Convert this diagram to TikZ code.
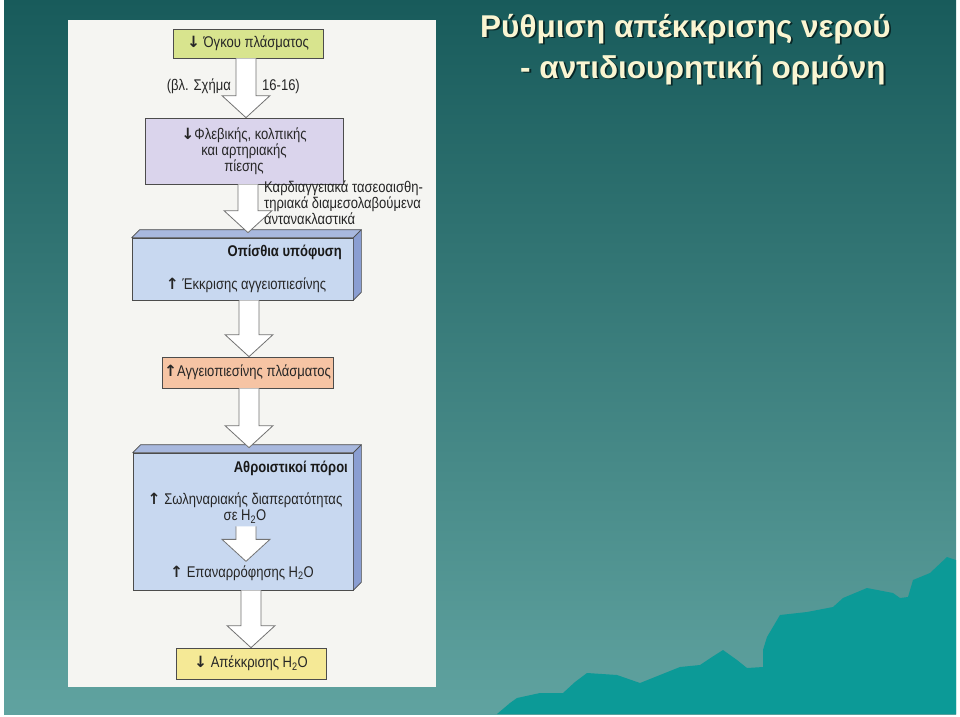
\documentclass[tikz,border=0pt]{standalone}
\usepackage{fontspec}
\setmainfont{Liberation Sans}
\newfontfamily\pf[FakeStretch=0.84]{Liberation Sans}
\newfontfamily\arr{DejaVu Sans}
\usetikzlibrary{calc}
\definecolor{bgtop}{HTML}{185B5B}
\definecolor{bgbot}{HTML}{60A3A0}
\definecolor{mount}{HTML}{0C9A97}
\definecolor{paper}{HTML}{F5F5F2}
\definecolor{cgreen}{HTML}{D8E48E}
\definecolor{clav}{HTML}{DAD4EC}
\definecolor{cblue}{HTML}{C8D8F0}
\definecolor{ctop}{HTML}{A8B8DE}
\definecolor{cside}{HTML}{8A9ED2}
\definecolor{csalmon}{HTML}{F6C4A4}
\definecolor{cyellow}{HTML}{F5E996}
\definecolor{ctitle}{HTML}{FAF5D2}
\definecolor{cshadow}{HTML}{082626}
\newcommand\dn{{\arr\bfseries ↓}}
\newcommand\up{{\arr\bfseries ↑}}
\newcommand\blockarr[3]{\draw[barr] let \p1=(#1), \p2=(#2) in
  (#3pt-10pt,\y1) -- (#3pt-10pt,\y2+22pt) -- (#3pt-24pt,\y2+22pt) -- (#3pt,\y2)
  -- (#3pt+24pt,\y2+22pt) -- (#3pt+10pt,\y2+22pt) -- (#3pt+10pt,\y1);}
\begin{document}
\begin{tikzpicture}[x=1pt,y=-1pt,
  box/.style={draw=black!70, line width=0.7pt, inner sep=0pt, align=center,
    font=\pf\fontsize{15.5}{16}\selectfont, text=black!85},
  txt/.style={inner sep=0pt, align=center, font=\pf\fontsize{15.5}{16}\selectfont, text=black!85},
  hdr/.style={inner sep=0pt, anchor=east, font=\pf\bfseries\fontsize{15.5}{16}\selectfont, text=black!90},
  face/.style={draw=black!70, line width=0.7pt, line join=round},
  barr/.style={draw=black!55, line width=0.8pt, fill=white, line join=miter},
  ttl/.style={anchor=base west, inner sep=0pt, font=\bfseries\fontsize{31.5}{36}\selectfont}]
\useasboundingbox (0,0) rectangle (960,716);
\fill[white] (0,0) rectangle (960,716);
\shade[top color=bgtop, bottom color=bgbot] (4,0) rectangle (956,714);
% mountains
\fill[mount] (497,714) -- (510,703) -- (517,698) -- (540,693) -- (563,693) -- (575,682) -- (587,673) -- (617,675)
  -- (640,683) -- (680,667) -- (700,665) -- (712,657) -- (723,650) -- (737,660) -- (747,668)
  -- (763,667) -- (763,650) -- (767,637) -- (780,615) -- (807,612) -- (833,607) -- (843,598)
  -- (867,588) -- (893,593) -- (900,598) -- (908,597) -- (913,580) -- (930,573)
  -- (947,557) -- (956,560) -- (956,714) -- cycle;
% paper panel
\fill[paper] (68,20) rectangle (436,687);
% title
\node[ttl, text=cshadow] at (481.8,38.8) {Ρύθμιση απέκκρισης νερού};
\node[ttl, text=ctitle] (t1) at (480,37) {Ρύθμιση απέκκρισης νερού};
\node[ttl, text=cshadow] at (521.8,79.8) {- αντιδιουρητική ορμόνη};
\node[ttl, text=ctitle] (t2) at (520,78) {- αντιδιουρητική ορμόνη};
% boxes
\node[box, fill=cgreen, minimum width=150pt, minimum height=29pt] (b1) at (248,43.5) {\dn\ Όγκου πλάσματος};
\node[box, fill=clav, minimum width=198pt, minimum height=66pt] (b2) at (244,151) {\dn Φλεβικής, κολπικής\\και αρτηριακής\\πίεσης};
\node[box, fill=cblue, minimum width=221pt, minimum height=62pt] (b3) at (242.5,269) {};
\fill[ctop, face] (b3.north west) -- ++(8,-8) -- ($(b3.north east)+(8,-8)$) -- (b3.north east) -- cycle;
\fill[cside, face] (b3.north east) -- ++(8,-8) -- ($(b3.south east)+(8,-8)$) -- (b3.south east) -- cycle;
\node[box, fill=csalmon, minimum width=171pt, minimum height=31pt] (b4) at (247.5,372.5) {\up Αγγειοπιεσίνης πλάσματος};
\node[box, fill=cblue, minimum width=220pt, minimum height=137pt] (b5) at (243,521.5) {};
\fill[ctop, face] (b5.north west) -- ++(8,-8) -- ($(b5.north east)+(8,-8)$) -- (b5.north east) -- cycle;
\fill[cside, face] (b5.north east) -- ++(8,-8) -- ($(b5.south east)+(8,-8)$) -- (b5.south east) -- cycle;
\node[box, fill=cyellow, minimum width=150pt, minimum height=31pt] (b6) at (251,663.5) {\dn\ Απέκκρισης H\textsubscript{2}O};
% texts inside 3D boxes
\node[hdr] (h3) at (342,252) {Οπίσθια υπόφυση};
\node[txt] (t3) at (246,285) {\up\ Έκκρισης αγγειοπιεσίνης};
\node[hdr] (h5) at (348,468) {Αθροιστικοί πόροι};
\node[txt] (t5a) at (245,508) {\up\ Σωληναριακής διαπερατότητας\\σε H\textsubscript{2}O};
\node[txt] (t5b) at (242,573) {\up\ Επαναρρόφησης H\textsubscript{2}O};
% side labels
\node[txt, anchor=east] (l1) at (231,86) {(βλ. Σχήμα};
\node[txt, anchor=west] (l2) at (262,86) {16-16)};
\node[txt, anchor=west, align=left] (l3) at (264,203) {Καρδιαγγειακά τασεοαισθη-\\τηριακά διαμεσολαβούμενα\\αντανακλαστικά};
% block arrows
\blockarr{b1.south}{b2.north}{246}
\blockarr{b2.south}{$(b3.north)+(0,-5)$}{248}
\blockarr{b3.south}{b4.north}{249}
\blockarr{b4.south}{$(b5.north)+(0,-5)$}{249}
\blockarr{$(t5a.south)+(0,3)$}{$(t5b.north)+(0,-4)$}{246}
\blockarr{b5.south}{b6.north}{251}
\end{tikzpicture}
\end{document}
